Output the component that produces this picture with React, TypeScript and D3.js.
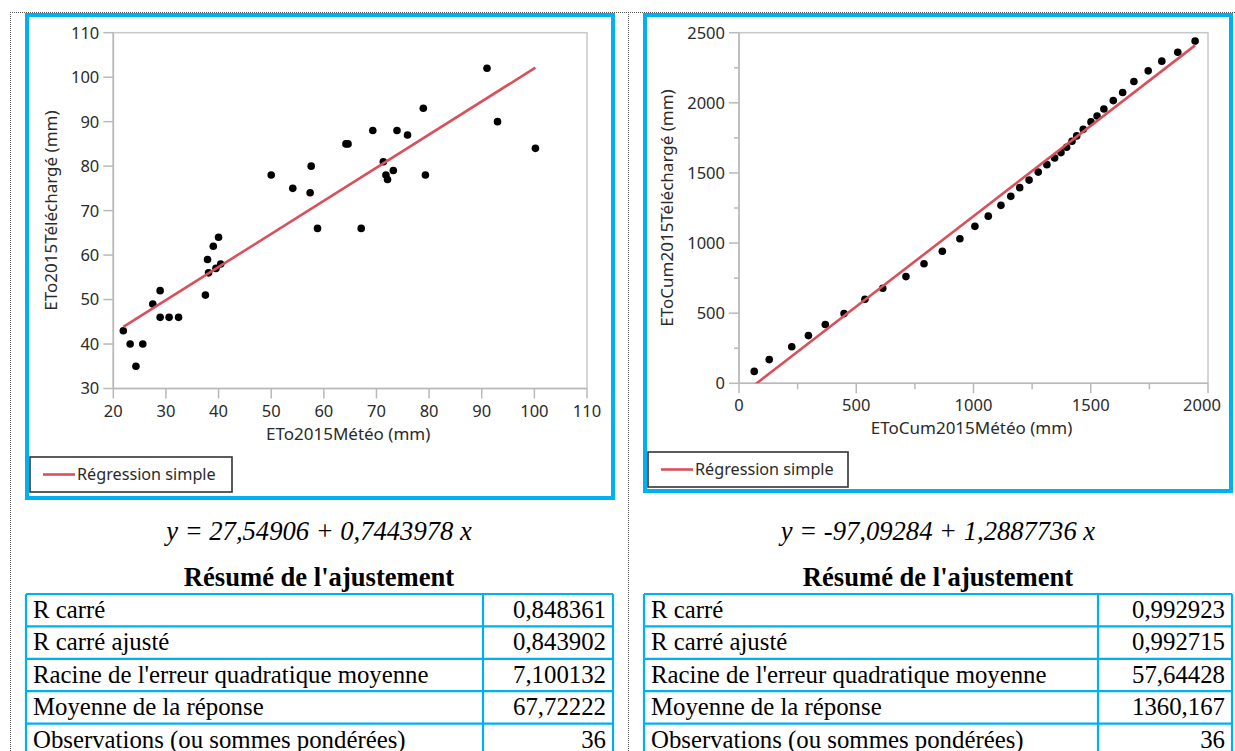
import React from "react";
import * as d3 from "d3";

// ETo per decade (mm): weather-station value vs downloaded value
const decadeMeteo = [
  21.9, 23.2, 25.6, 24.3, 27.5, 28.9, 28.9, 30.6, 32.4, 37.5, 37.9, 38.1,
  39.0, 40.0, 39.5, 40.4, 54.1, 57.4, 58.8, 91.0, 78.9, 93.0, 69.3, 73.9,
  75.9, 64.2, 100.2, 71.3, 71.8, 72.1, 73.2, 79.3, 67.1, 50.0, 57.6, 64.6,
];
const decadeTelecharge = [
  43, 40, 40, 35, 49, 52, 46, 46, 46, 51, 59, 56,
  62, 64, 57, 58, 75, 74, 66, 102, 93, 90, 88, 88,
  87, 85, 84, 81, 78, 77, 79, 78, 66, 78, 80, 85,
];

// Cumulative ETo over the year (mm)
const cumMeteo = [
  65, 129, 225, 296, 368, 448, 537, 613, 712, 789, 867, 942,
  1006, 1063, 1117, 1159, 1197, 1237, 1276, 1313, 1346, 1373, 1397, 1420,
  1440, 1468, 1501, 1527, 1556, 1596, 1636, 1684, 1745, 1803, 1871, 1945,
];
const cumTelecharge = [
  85, 169, 261, 340, 419, 497, 599, 678, 761, 852, 942, 1031,
  1119, 1192, 1269, 1333, 1395, 1449, 1506, 1559, 1606, 1645, 1683, 1726,
  1764, 1811, 1864, 1906, 1956, 2016, 2074, 2152, 2228, 2297, 2361, 2440,
];

// Fitted simple regressions
const fitDecade = { intercept: 27.54906, slope: 0.7443978 };
const fitCum = { intercept: -97.09284, slope: 1.2887736 };

const equationDecade = "y = 27,54906 + 0,7443978 x";
const equationCum = "y = -97,09284 + 1,2887736 x";

// Axis ticks
const decadeXTicks = [20, 30, 40, 50, 60, 70, 80, 90, 100, 110];
const decadeYTicks = [30, 40, 50, 60, 70, 80, 90, 100, 110];
const cumXTicks = [0, 500, 1000, 1500, 2000];
const cumXMinor = [250, 750, 1250, 1750];
const cumYTicks = [0, 500, 1000, 1500, 2000, 2500];
const cumYMinor = [250, 750, 1250, 1750, 2250];

// Fit summary
const summaryLabels = [
  "R carré",
  "R carré ajusté",
  "Racine de l'erreur quadratique moyenne",
  "Moyenne de la réponse",
  "Observations (ou sommes pondérées)",
];
const summaryDecade = ["0,848361", "0,843902", "7,100132", "67,72222", "36"];
const summaryCum = ["0,992923", "0,992715", "57,64428", "1360,167", "36"];

const CYAN = "#00b0f0";
const AXIS = "#b9b9b9";
const TEXT = "#2a2a2a";
const FIT = "#d9505c";
const SANS = "'Noto Sans', 'Open Sans', sans-serif";
const SERIF = "'Liberation Serif', 'Times New Roman', serif";

type ChartProps = {
  id: string;
  panel: { x: number; y: number; w: number; h: number };
  plot: { x0: number; x1: number; y0: number; y1: number };
  xDomain: [number, number];
  yDomain: [number, number];
  xTicks: number[];
  yTicks: number[];
  xMinor?: number[];
  yMinor?: number[];
  lastXLabelShift?: number;
  xs: number[];
  ys: number[];
  fit: { intercept: number; slope: number };
  xTitle: string;
  yTitle: string;
  yTitleX: number;
  legend: { x: number; y: number; w: number; h: number };
};

function ScatterPanel(p: ChartProps) {
  const x = d3.scaleLinear().domain(p.xDomain).range([p.plot.x0, p.plot.x1]);
  const y = d3.scaleLinear().domain(p.yDomain).range([p.plot.y1, p.plot.y0]);
  const xMin = d3.min(p.xs) as number;
  const xMax = d3.max(p.xs) as number;
  const fitLine = d3
    .line<number>()
    .x((v) => x(v))
    .y((v) => y(p.fit.intercept + p.fit.slope * v))([xMin, xMax]);
  const { x0, x1, y0, y1 } = p.plot;
  const clipId = `clip-${p.id}`;
  const lastX = p.xTicks[p.xTicks.length - 1];
  return (
    <g>
      <rect
        x={p.panel.x + 2}
        y={p.panel.y + 2}
        width={p.panel.w - 4}
        height={p.panel.h - 4}
        fill="#fff"
        stroke={CYAN}
        strokeWidth={4}
      />
      <defs>
        <clipPath id={clipId}>
          <rect x={x0} y={y0} width={x1 - x0} height={y1 - y0} />
        </clipPath>
      </defs>
      {/* frame */}
      <rect x={x0} y={y0} width={x1 - x0} height={y1 - y0} fill="none" stroke="#c8c8c8" strokeWidth={1.5} />
      <line x1={x0} x2={x0} y1={y0} y2={y1} stroke={AXIS} strokeWidth={1.6} />
      <line x1={x0} x2={x1} y1={y1} y2={y1} stroke={AXIS} strokeWidth={1.6} />
      {/* y axis */}
      {p.yTicks.map((t) => (
        <g key={`yt${t}`}>
          <line x1={x0 - 10} x2={x0} y1={y(t)} y2={y(t)} stroke={AXIS} strokeWidth={1.5} />
          <text x={x0 - 14} y={y(t)} dy="0.36em" textAnchor="end" fontSize={16.5} fontFamily={SANS} fill={TEXT}>
            {t}
          </text>
        </g>
      ))}
      {(p.yMinor || []).map((t) => (
        <line key={`ym${t}`} x1={x0 - 5} x2={x0} y1={y(t)} y2={y(t)} stroke={AXIS} strokeWidth={1.5} />
      ))}
      {/* x axis */}
      {p.xTicks.map((t) => (
        <g key={`xt${t}`}>
          <line x1={x(t)} x2={x(t)} y1={y1} y2={y1 + 10} stroke={AXIS} strokeWidth={1.5} />
          <text
            x={x(t) - (t === lastX ? p.lastXLabelShift || 0 : 0)}
            y={y1 + 28}
            textAnchor="middle"
            fontSize={16.5}
            fontFamily={SANS}
            fill={TEXT}
          >
            {t}
          </text>
        </g>
      ))}
      {(p.xMinor || []).map((t) => (
        <line key={`xm${t}`} x1={x(t)} x2={x(t)} y1={y1} y2={y1 + 6} stroke={AXIS} strokeWidth={1.5} />
      ))}
      <text x={(x0 + x1) / 2 - 2} y={y1 + 51} textAnchor="middle" fontSize={17} fontFamily={SANS} fill={TEXT}>
        {p.xTitle}
      </text>
      <text
        transform={`translate(${p.yTitleX},${(y0 + y1) / 2}) rotate(-90)`}
        dy="0.35em"
        textAnchor="middle"
        fontSize={17}
        fontFamily={SANS}
        fill={TEXT}
      >
        {p.yTitle}
      </text>
      {/* points */}
      {p.xs.map((v, i) => (
        <circle key={`pt${i}`} cx={x(v)} cy={y(p.ys[i])} r={3.8} fill="#000" />
      ))}
      {/* regression */}
      <path d={fitLine || ""} fill="none" stroke={FIT} strokeWidth={2.6} clipPath={`url(#${clipId})`} />
      {/* legend */}
      <rect
        x={p.legend.x}
        y={p.legend.y}
        width={p.legend.w}
        height={p.legend.h}
        fill="#fff"
        stroke="#333"
        strokeWidth={1.6}
      />
      <line
        x1={p.legend.x + 13}
        x2={p.legend.x + 45}
        y1={p.legend.y + p.legend.h / 2}
        y2={p.legend.y + p.legend.h / 2}
        stroke={FIT}
        strokeWidth={2.6}
      />
      <text
        x={p.legend.x + 47}
        y={p.legend.y + p.legend.h / 2}
        dy="0.36em"
        fontSize={16.2}
        fontFamily={SANS}
        fill={TEXT}
      >
        Régression simple
      </text>
    </g>
  );
}

function SummaryTable(props: { x0: number; x1: number; xCol: number; values: string[]; cx: number; equation: string }) {
  const rowTop = 594;
  const rowH = 32.4;
  const rows = summaryLabels.map((_, i) => rowTop + i * rowH);
  return (
    <g fontFamily={SERIF} fill="#000">
      <text x={props.cx} y={540} textAnchor="middle" fontSize={26.6} fontStyle="italic">
        {props.equation}
      </text>
      <text x={props.cx} y={586} textAnchor="middle" fontSize={26.6} fontWeight="bold">
        Résumé de l'ajustement
      </text>
      {summaryLabels.map((label, i) => (
        <g key={label}>
          <text x={props.x0 + 7} y={rows[i] + 24} fontSize={24.8}>
            {label}
          </text>
          <text x={props.x1 - 7} y={rows[i] + 24} fontSize={24.8} textAnchor="end">
            {props.values[i]}
          </text>
        </g>
      ))}
      {rows.concat([rowTop + summaryLabels.length * rowH]).map((ry, i) => (
        <line key={`h${i}`} x1={props.x0} x2={props.x1} y1={ry} y2={ry} stroke={CYAN} strokeWidth={2.2} />
      ))}
      <line x1={props.x0} x2={props.x0} y1={rowTop} y2={800} stroke={CYAN} strokeWidth={2.2} />
      <line x1={props.xCol} x2={props.xCol} y1={rowTop} y2={800} stroke={CYAN} strokeWidth={2.2} />
      <line x1={props.x1} x2={props.x1} y1={rowTop} y2={800} stroke={CYAN} strokeWidth={2.2} />
    </g>
  );
}

export default function App() {
  return (
    <svg
      width={1235}
      height={751}
      style={{ position: "absolute", left: 0, top: 0, background: "#fff" }}
    >
      {/* cell borders */}
      <g stroke="#555" strokeWidth={1} strokeDasharray="1,1" fill="none">
        <line x1={10} x2={1235} y1={12.5} y2={12.5} />
        <line x1={10.5} x2={10.5} y1={12} y2={751} />
        <line x1={628.5} x2={628.5} y1={12} y2={751} />
      </g>
      <ScatterPanel
        id="decade"
        panel={{ x: 25, y: 13, w: 590, h: 487 }}
        plot={{ x0: 113.3, x1: 587, y0: 32.7, y1: 388.5 }}
        xDomain={[20, 110]}
        yDomain={[30, 110]}
        xTicks={decadeXTicks}
        yTicks={decadeYTicks}
        xs={decadeMeteo}
        ys={decadeTelecharge}
        fit={fitDecade}
        xTitle="ETo2015Météo (mm)"
        yTitle="ETo2015Téléchargé (mm)"
        yTitleX={51}
        legend={{ x: 30, y: 457, w: 202, h: 35 }}
      />
      <ScatterPanel
        id="cum"
        panel={{ x: 643, y: 13, w: 590, h: 480 }}
        plot={{ x0: 739, x1: 1208, y0: 32.7, y1: 383.3 }}
        xDomain={[0, 2000]}
        yDomain={[0, 2500]}
        xTicks={cumXTicks}
        yTicks={cumYTicks}
        xMinor={cumXMinor}
        yMinor={cumYMinor}
        lastXLabelShift={6}
        xs={cumMeteo}
        ys={cumTelecharge}
        fit={fitCum}
        xTitle="EToCum2015Météo (mm)"
        yTitle="EToCum2015Téléchargé (mm)"
        yTitleX={667}
        legend={{ x: 648, y: 452, w: 200, h: 35 }}
      />
      <SummaryTable x0={26} x1={613} xCol={483} values={summaryDecade} cx={319} equation={equationDecade} />
      <SummaryTable x0={644} x1={1232} xCol={1098} values={summaryCum} cx={938} equation={equationCum} />
    </svg>
  );
}
